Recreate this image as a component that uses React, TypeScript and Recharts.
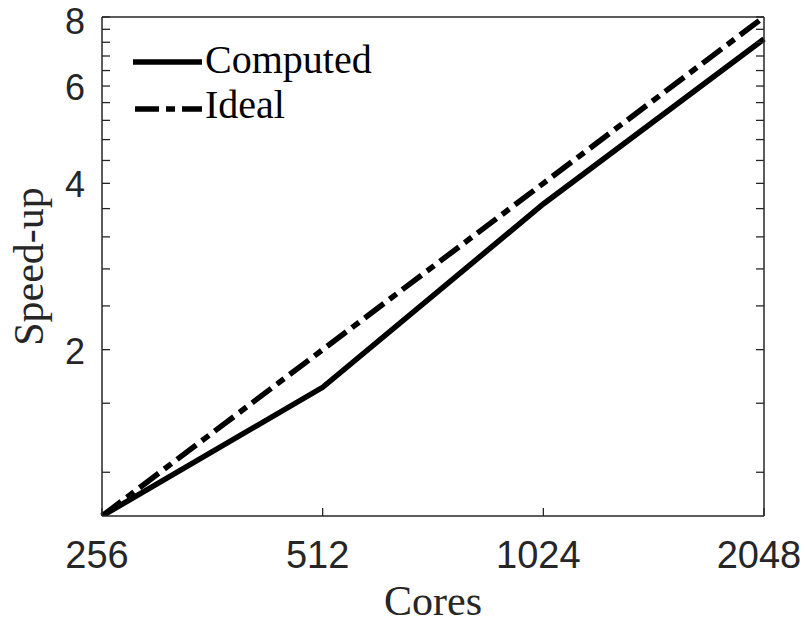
import React from 'react';
import { LineChart, Line, XAxis, YAxis, Legend } from 'recharts';

// values
const cores = [256, 512, 1024, 2048];
const computed = [1, 1.71, 3.67, 7.3];
const ideal = [1, 2, 4, 8];

const xTicks = [256, 512, 1024, 2048];
const yLabels = [2, 4, 6, 8];
const yTicks = [
  1.2, 1.6, 2, 2.4, 2.8, 3.2, 3.6, 4, 4.4, 4.8, 5.2, 5.6, 6, 6.4, 6.8, 7.2, 7.6, 8
];

const data = cores.map((c, i) => ({ cores: c, computed: computed[i], ideal: ideal[i] }));

const AXIS = '#262626';
const SANS = '"Liberation Sans", Arial, Helvetica, sans-serif';
const SERIF = '"Liberation Serif", "Times New Roman", serif';
const TICK_LEN = 8;
const IDEAL_DASH = '24 7 9 7';

function BottomTick({ x, y, payload }: any) {
  return (
    <g>
      <line x1={x} y1={y} x2={x} y2={y - TICK_LEN} stroke={AXIS} strokeWidth={1.3} />
      <text x={x - 5} y={y + 52} textAnchor="middle" fill={AXIS} fontFamily={SANS} fontSize={38}>
        {payload.value}
      </text>
    </g>
  );
}

function TopTick({ x, y }: any) {
  return <line x1={x} y1={y} x2={x} y2={y + TICK_LEN} stroke={AXIS} strokeWidth={1.3} />;
}

function LeftTick({ x, y, payload }: any) {
  const major = yLabels.includes(payload.value);
  // keep the top label inside the picture
  const baseline = Math.max(y + 14, 34);
  return (
    <g>
      <line x1={x} y1={y} x2={x + TICK_LEN} y2={y} stroke={AXIS} strokeWidth={1.3} />
      {major && (
        <text x={x - 17} y={baseline} textAnchor="end" fill={AXIS} fontFamily={SANS} fontSize={36}>
          {payload.value}
        </text>
      )}
    </g>
  );
}

function RightTick({ x, y }: any) {
  return <line x1={x} y1={y} x2={x - TICK_LEN} y2={y} stroke={AXIS} strokeWidth={1.3} />;
}

function LegendBox() {
  return (
    <svg width={270} height={100}>
      <line x1={3} y1={27} x2={72} y2={27} stroke="#000" strokeWidth={5.5} />
      <text x={75} y={38} fontFamily={SERIF} fontSize={40} fill="#000">Computed</text>
      <line x1={5} y1={74} x2={72} y2={74} stroke="#000" strokeWidth={5.5} strokeDasharray={IDEAL_DASH} />
      <text x={75} y={83} fontFamily={SERIF} fontSize={40} fill="#000">Ideal</text>
    </svg>
  );
}

export default function App() {
  return (
    <div style={{ position: 'absolute', left: 0, top: 0, background: '#fff' }}>
      <LineChart width={805} height={624} data={data} margin={{ top: 0, right: 0, bottom: 0, left: 0 }}>
        <XAxis
          dataKey="cores"
          type="number"
          scale="log"
          domain={[256, 2048]}
          ticks={xTicks}
          height={108}
          tickSize={0}
          tickMargin={0}
          tickLine={false}
          axisLine={{ stroke: AXIS, strokeWidth: 1.5 }}
          tick={<BottomTick />}
          interval={0}
          label={{
            content: ({ viewBox }: any) => (
              <text
                x={viewBox.x + viewBox.width / 2}
                y={viewBox.y + 99}
                textAnchor="middle"
                fontFamily={SERIF}
                fontSize={42}
                fill={AXIS}
              >
                Cores
              </text>
            ),
          }}
        />
        <XAxis
          xAxisId="top"
          orientation="top"
          type="number"
          scale="log"
          domain={[256, 2048]}
          ticks={xTicks}
          height={17}
          tickSize={0}
          tickMargin={0}
          tickLine={false}
          axisLine={{ stroke: AXIS, strokeWidth: 1.5 }}
          tick={<TopTick />}
          interval={0}
        />
        <YAxis
          type="number"
          scale="log"
          domain={[1, 8]}
          allowDataOverflow
          ticks={yTicks}
          width={102}
          tickSize={0}
          tickMargin={0}
          tickLine={false}
          axisLine={{ stroke: AXIS, strokeWidth: 1.5 }}
          tick={<LeftTick />}
          interval={0}
          label={{
            content: ({ viewBox }: any) => {
              const cx = 43;
              const cy = viewBox.y + viewBox.height / 2;
              return (
                <text
                  x={cx}
                  y={cy}
                  transform={`rotate(-90, ${cx}, ${cy})`}
                  textAnchor="middle"
                  fontFamily={SERIF}
                  fontSize={42}
                  fill={AXIS}
                >
                  Speed-up
                </text>
              );
            },
          }}
        />
        <YAxis
          yAxisId="right"
          orientation="right"
          type="number"
          scale="log"
          domain={[1, 8]}
          allowDataOverflow
          ticks={yTicks}
          width={41}
          tickSize={0}
          tickMargin={0}
          tickLine={false}
          axisLine={{ stroke: AXIS, strokeWidth: 1.5 }}
          tick={<RightTick />}
          interval={0}
        />
        <Legend
          layout="vertical"
          align="center"
          verticalAlign="middle"
          content={() => <LegendBox />}
          wrapperStyle={{ position: 'absolute', left: 130, top: 35, width: 270, height: 100 }}
        />
        <Line
          dataKey="ideal"
          stroke="#000"
          strokeWidth={5.5}
          strokeDasharray={IDEAL_DASH}
          dot={false}
          activeDot={false}
          isAnimationActive={false}
        />
        <Line
          dataKey="computed"
          stroke="#000"
          strokeWidth={5.5}
          dot={false}
          activeDot={false}
          isAnimationActive={false}
        />
      </LineChart>
    </div>
  );
}
